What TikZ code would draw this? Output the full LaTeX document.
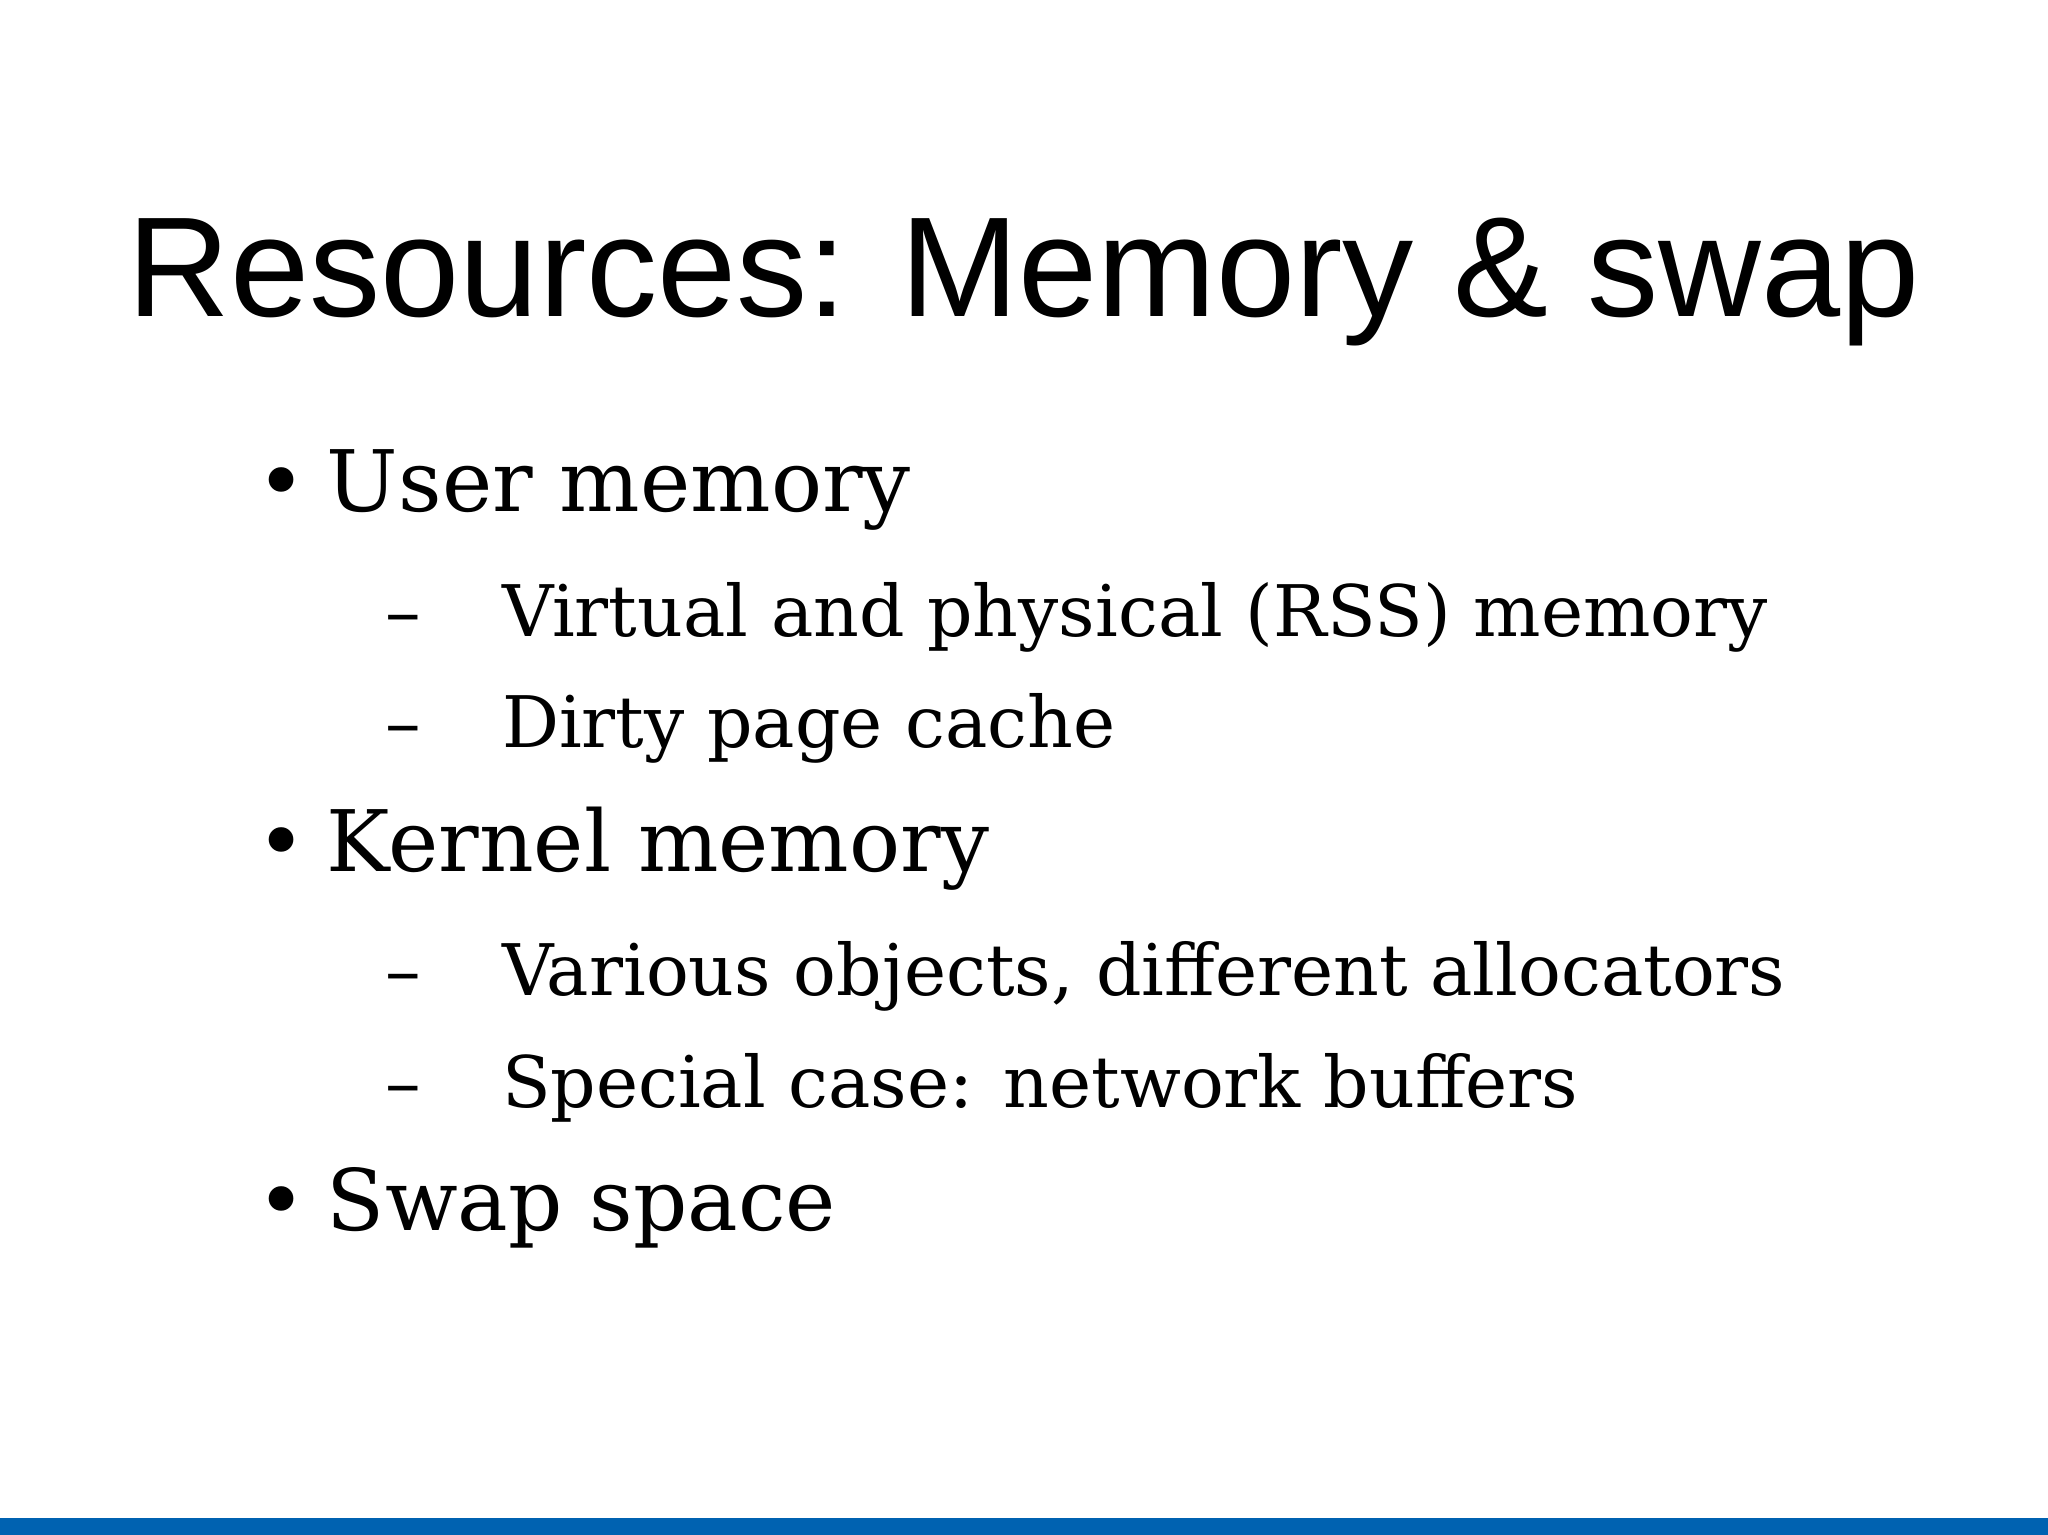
\documentclass[tikz,border=0pt]{standalone}
\usepackage{fontspec}
\setmainfont{DejaVu Serif}
\newfontfamily\titlefont{Liberation Sans}
\definecolor{barblue}{HTML}{0062B1}
\begin{document}
\begin{tikzpicture}[x=0.02cm,y=-0.02cm,
  lvl/.style={anchor=base west,inner sep=0pt,font=\fontsize{37}{40}\selectfont},
  sub/.style={anchor=base west,inner sep=0pt,font=\fontsize{31}{34}\selectfont}]
\useasboundingbox (0,0) rectangle (1568,1175);
\fill[white] (0,0) rectangle (1568,1175);
\fill[barblue] (0,1162) rectangle (1568,1175);
\node[anchor=base,inner sep=0pt,font=\titlefont\fontsize{62}{66}\selectfont] (title) at (784,242) {Resources: Memory \& swap};
\node[lvl] (b1) at (196,392) {•};
\node[lvl] (t1) at (250,392) {User memory};
\node[sub] (d1) at (295,487) {–};
\node[sub] (s1) at (384,487) {Virtual and physical (RSS) memory};
\node[sub] (d2) at (295,572) {–};
\node[sub] (s2) at (384,572) {Dirty page cache};
\node[lvl] (b2) at (196,667) {•};
\node[lvl] (t2) at (250,667) {Kernel memory};
\node[sub] (d3) at (295,762) {–};
\node[sub] (s3) at (384,762) {Various objects, different allocators};
\node[sub] (d4) at (295,848) {–};
\node[sub] (s4) at (384,848) {Special case: network buffers};
\node[lvl] (b3) at (196,942) {•};
\node[lvl] (t3) at (250,942) {Swap space};
\end{tikzpicture}
\end{document}
